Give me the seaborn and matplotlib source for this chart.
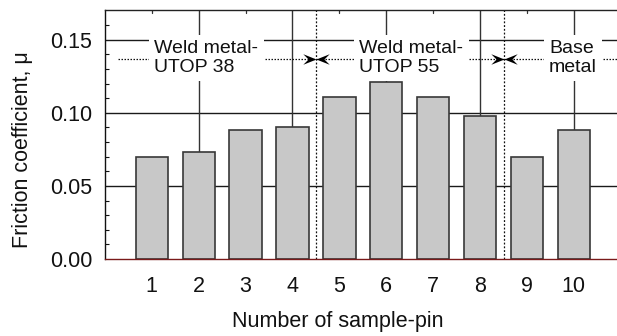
import numpy as np
import pandas as pd
import matplotlib
matplotlib.use("Agg")
import matplotlib.pyplot as plt
from matplotlib.path import Path
import seaborn as sns

# Friction coefficient for each sample pin
pins = [1, 2, 3, 4, 5, 6, 7, 8, 9, 10]
friction = [0.070, 0.073, 0.088, 0.090, 0.111, 0.121, 0.111, 0.098, 0.070, 0.088]

# Material groups: label, text position, and group boundaries
group_labels = ["Weld metal-\nUTOP 38", "Weld metal-\nUTOP 55", "Base\nmetal"]
group_label_x = [2.16, 6.53, 9.98]
group_bounds = [4.5, 8.5]
y_ticks = [0.00, 0.05, 0.10, 0.15]

sns.set_style("white")
plt.rcParams["font.family"] = ["Liberation Sans", "DejaVu Sans"]

df = pd.DataFrame({"pin": pins, "mu": friction})

fig = plt.figure(figsize=(6.17, 3.36), dpi=100)
ax = fig.add_axes([0.170, 0.229, 0.830, 0.741])

sns.barplot(data=df, x="pin", y="mu", native_scale=True, width=0.69,
            color="#c8c8c8", saturation=1, edgecolor="#383838",
            linewidth=1.2, ax=ax, zorder=3)

X_MAX = 10.92
Y_MAX = 0.1703
ax.set_xlim(0, X_MAX)
ax.set_ylim(0, Y_MAX)

# grid: horizontal at major y ticks, vertical at even pins
ax.set_axisbelow(True)
for yv in y_ticks[1:]:
    ax.axhline(yv, color="#1a1a1a", lw=1.0, zorder=1)
for xv in [2, 4, 6, 8, 10]:
    ax.axvline(xv, color="#333333", lw=1.0, zorder=1)

# group boundaries
for xb in group_bounds:
    ax.axvline(xb, color="#111111", lw=0.9, ls=(0, (1.5, 1.5)), zorder=2)

# dotted span lines between boundaries
y_arrow = 0.137
dot = dict(color="#111111", lw=0.9, ls=(0, (1.2, 1.2)), zorder=2)
ax.plot([0.28, group_bounds[0]], [y_arrow, y_arrow], **dot)
ax.plot([group_bounds[0], group_bounds[1]], [y_arrow, y_arrow], **dot)
ax.plot([group_bounds[1], X_MAX], [y_arrow, y_arrow], clip_on=False, **dot)

# swept-back arrowheads, tip at the marker origin
codes = [Path.MOVETO, Path.LINETO, Path.LINETO, Path.LINETO, Path.CLOSEPOLY]
head_right = Path([(0, 0), (-1.0, 0.4), (-0.6, 0), (-1.0, -0.4), (0, 0)], codes)
head_left = Path([(0, 0), (1.0, 0.4), (0.6, 0), (1.0, -0.4), (0, 0)], codes)
for xb in group_bounds:
    for hp in (head_right, head_left):
        ax.plot([xb], [y_arrow], marker=hp, markersize=19, color="black",
                markeredgewidth=0, linestyle="none", zorder=4)

# group labels with white boxes covering the grid
for lab, lx in zip(group_labels, group_label_x):
    ax.text(lx, y_arrow + 0.0005, lab, ha="center", va="center",
            multialignment="left", fontsize=14, color="#111111", zorder=5,
            linespacing=1.12,
            bbox=dict(boxstyle="square,pad=0.28", fc="white", ec="none"))

# axes styling
ax.set_yticks(y_ticks)
ax.set_yticklabels([f"{v:.2f}" for v in y_ticks])
ax.set_yticks(np.arange(0.01, 0.17, 0.01), minor=True)
ax.set_xticks(pins)
ax.set_xticklabels([str(p) for p in pins])
ax.tick_params(axis="y", which="both", direction="in", left=True, right=False,
               labelsize=15.5, pad=9, color="#111111", labelcolor="#111111")
ax.tick_params(axis="y", which="major", length=0)
ax.tick_params(axis="y", which="minor", length=3, width=0.8)
ax.tick_params(axis="x", which="major", direction="in", bottom=True, top=False,
               length=3, width=0.8, labelsize=15.5, pad=12, color="#333333",
               labelcolor="#111111")

# short inward ticks on the top edge at odd pins
for xv in [1, 3, 5, 7, 9]:
    ax.plot([xv, xv], [Y_MAX, Y_MAX - 0.0022], color="#333333", lw=0.9,
            zorder=2)

ax.spines["right"].set_visible(False)
ax.spines["top"].set_color("#222222")
ax.spines["top"].set_linewidth(1.0)
ax.spines["left"].set_color("#111111")
ax.spines["left"].set_linewidth(1.0)
ax.spines["bottom"].set_color("#7a1a1a")
ax.spines["bottom"].set_linewidth(1.0)
ax.spines["bottom"].set_zorder(6)

ax.set_xlabel("Number of sample-pin", fontsize=15.5, color="#111111")
ax.set_ylabel("Friction coefficient, μ", fontsize=15.5, color="#111111")
ax.xaxis.set_label_coords(0.455, -0.207)
ax.yaxis.set_label_coords(-0.141, 0.438)

fig.savefig("out.png", dpi=100)
